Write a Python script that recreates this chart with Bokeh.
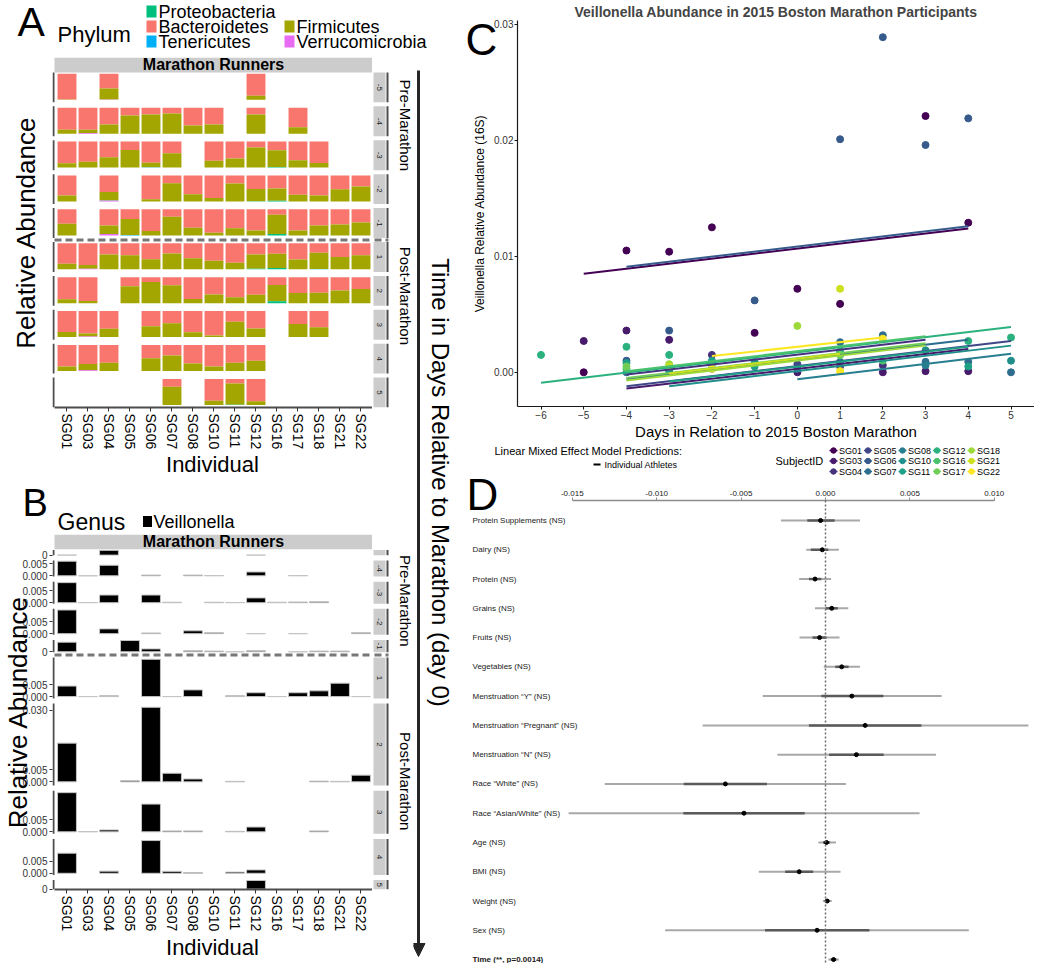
import math
from bokeh.plotting import figure
from bokeh.layouts import row, column
from bokeh.models import (Range1d, FixedTicker, Label, Arrow, NormalHead, Span,
                          PrintfTickFormatter)
from bokeh.embed import file_html
from bokeh.resources import INLINE
from bokeh.core.properties import value
from bokeh.palettes import viridis

FONT = "Liberation Sans"

# ------------------------------------------------------------------ data
subjects = ["SG01", "SG03", "SG04", "SG05", "SG06", "SG07", "SG08", "SG10",
            "SG11", "SG12", "SG16", "SG17", "SG18", "SG21", "SG22"]
facet_days = [-5, -4, -3, -2, -1, 1, 2, 3, 4, 5]

phyla = ["Bacteroidetes", "Firmicutes", "Proteobacteria", "Tenericutes", "Verrucomicrobia"]
phylum_colors = ["#F8766D", "#A3A500", "#00BF7D", "#00B0F6", "#E76BF3"]

# Panel A: Firmicutes share per subject (None = no sample that day)
firm_m5 = [0.01, None, 0.42, None, None, None, None, None, None, 0.15, None, None, None, None, None]
firm_m4 = [0.15, 0.12, 0.35, 0.70, 0.74, 0.78, 0.31, 0.35, None, 0.74, None, 0.25, None, None, None]
firm_m3 = [0.17, 0.22, 0.40, 0.68, 0.18, 0.55, None, 0.26, 0.35, 0.77, 0.65, 0.28, 0.18, None, None]
firm_m2 = [0.23, None, 0.32, None, 0.09, 0.70, 0.28, 0.13, 0.69, 0.47, 0.47, 0.26, 0.23, 0.47, 0.58]
firm_m1 = [0.45, None, 0.33, 0.62, 0.17, 0.72, 0.29, 0.10, 0.27, 0.19, 0.74, 0.19, 0.38, 0.42, 0.50]
firm_p1 = [0.21, 0.14, 0.57, 0.54, 0.39, 0.61, 0.42, 0.33, 0.25, 0.55, 0.55, 0.38, 0.63, 0.47, 0.54]
firm_p2 = [0.15, 0.08, None, 0.65, 0.81, 0.69, 0.16, 0.33, 0.23, 0.32, 0.63, 0.39, 0.40, 0.49, 0.55]
firm_p3 = [0.20, 0.12, 0.32, None, 0.42, 0.53, 0.19, 0.06, 0.59, 0.33, None, 0.50, 0.38, None, None]
firm_p4 = [0.17, 0.24, 0.32, None, 0.49, 0.60, 0.29, 0.17, 0.32, 0.39, None, None, None, None, None]
firm_p5 = [None, None, None, None, None, 0.70, None, 0.16, 0.81, 0.14, None, None, None, None, None]

# minor phyla (subject, day, share)
proteo_minor = [("SG16", -3, 0.02), ("SG16", -2, 0.03), ("SG16", -1, 0.05), ("SG16", 1, 0.05),
                ("SG16", 2, 0.07), ("SG12", 1, 0.02), ("SG12", -2, 0.01), ("SG11", 5, 0.01)]
teneri_minor = [("SG04", -2, 0.01), ("SG05", -1, 0.01), ("SG06", -3, 0.01), ("SG18", 1, 0.01)]
verruco_minor = [("SG03", -4, 0.03), ("SG04", -2, 0.03), ("SG04", -1, 0.05), ("SG03", 1, 0.02),
                 ("SG03", 3, 0.02), ("SG03", 4, 0.03), ("SG04", -5, 0.01)]

# Panel B: Veillonella relative abundance (None = nothing drawn)
veil_m5 = [0.0, None, 0.0020, None, None, None, None, None, None, 0.0, None, None, None, None, None]
veil_m4 = [0.0061, 0.0, 0.0044, None, 0.0003, None, 0.0003, 0.0001, None, 0.0016, None, 0.0001, None, None, None]
veil_m3 = [0.0084, 0.0001, 0.0032, None, 0.0032, 0.0002, None, 0.0002, 0.0001, 0.0020, 0.0002, 0.0003, 0.0004, None, None]
veil_m2 = [0.0099, None, 0.0020, None, 0.0003, None, 0.0012, 0.0004, None, 0.0, None, 0.0, None, None, 0.0004]
veil_m1 = [0.0040, None, None, 0.0047, 0.0012, None, 0.0004, 0.0003, 0.0, 0.0004, None, 0.0, 0.0003, 0.0003, None]
veil_p1 = [0.0044, 0.0, 0.0003, None, 0.0156, 0.0, 0.0028, None, 0.0003, 0.0016, 0.0, 0.0016, 0.0024, 0.0056, 0.0]
veil_p2 = [0.0162, None, None, 0.0005, 0.0312, 0.0036, 0.0012, None, 0.0002, None, None, None, 0.0003, 0.0002, 0.0028]
veil_p3 = [0.0164, 0.0001, 0.0008, None, 0.0116, 0.0004, 0.0004, None, 0.0002, 0.0020, None, None, 0.0004, None, None]
veil_p4 = [0.0084, None, 0.0009, None, 0.0137, 0.0008, 0.0003, None, 0.0005, 0.0014, None, None, None, None, None]
veil_p5 = [None, None, None, None, None, None, None, None, None, 0.0036, None, None, None, None, None]
veil_breaks = [0.0, 0.005, 0.03]

# Panel C: observations
c_subject = (["SG01"] * 9 + ["SG03"] * 7 + ["SG04"] * 2 + ["SG05"] * 4 + ["SG06"] * 7 +
             ["SG07"] * 6 + ["SG08"] * 3 + ["SG10"] * 4 + ["SG11"] * 5 + ["SG12"] * 6 +
             ["SG16"] * 3 + ["SG17"] * 2 + ["SG18"] * 2 + ["SG21"] * 2 + ["SG22"] * 3)
c_day = [-5, -4, -3, -2, -1, 0, 1, 3, 4,
         -5, -4, -3, 0, 2, 3, 4,
         -2, 2,
         -3, -2, 0, 1,
         -4, -3, -1, 1, 2, 3, 4,
         -4, 1, 2, 3, 4, 5,
         0, 1, 3,
         -3, -1, 3, 5,
         -4, -2, -1, 1, 4,
         -6, -4, -3, 1, 4, 5,
         -4, -2, 2,
         -4, 1,
         -3, 0,
         -3, 1,
         -2, 1, 2]
c_value = [0.0000, 0.0105, 0.0104, 0.0125, 0.0034, 0.0072, 0.0059, 0.0221, 0.0129,
           0.0027, 0.0036, 0.0028, 0.0000, 0.0000, 0.0001, 0.0001,
           0.0015, 0.0006,
           0.0003, 0.0003, 0.0007, 0.0005,
           0.0010, 0.0036, 0.0062, 0.0201, 0.0289, 0.0196, 0.0219,
           0.0000, 0.0026, 0.0032, 0.0009, 0.0009, 0.0000,
           0.0003, 0.0009, 0.0006,
           0.0001, 0.0009, 0.0019, 0.0010,
           0.0008, 0.0010, 0.0005, 0.0015, 0.0005,
           0.0015, 0.0022, 0.0015, 0.0018, 0.0027, 0.0030,
           0.0003, 0.0007, 0.0010,
           0.0005, 0.0015,
           0.0007, 0.0040,
           0.0005, 0.0072,
           0.0003, 0.0001, 0.0029]

# Panel C: mixed-model prediction segments per athlete
line_subject = subjects
line_day0 = [-5, -4, -4, -4, -4, -4, 0, -3, -3, -6, -4, -4, -4, -3, -2]
line_day1 = [4, 4, 3, 5, 4, 4, 5, 5, 4, 5, 3, 3, 3, 1, 2]
line_val0 = [0.0085, -0.0014, -0.0002, -0.0012, 0.0091, -0.0006, -0.0006, -0.0012, -0.0008,
             -0.0009, 0.0001, -0.0005, -0.0007, -0.0001, 0.0014]
line_val1 = [0.0124, 0.0020, 0.0028, 0.0027, 0.0126, 0.0028, 0.0016, 0.0023, 0.0022,
             0.0039, 0.0031, 0.0025, 0.0023, 0.0016, 0.0030]

# Panel D: coefficient estimates with two interval widths
d_terms = ["Protein Supplements (NS)", "Dairy (NS)", "Protein (NS)", "Grains (NS)", "Fruits (NS)",
           "Vegetables (NS)", "Menstruation \u201cY\u201d (NS)", "Menstruation \u201cPregnant\u201d (NS)",
           "Menstruation \u201cN\u201d (NS)", "Race \u201cWhite\u201d (NS)", "Race \u201cAsian/White\u201d (NS)",
           "Age (NS)", "BMI (NS)", "Weight (NS)", "Sex (NS)", "Time (**, p=0.0014)"]
d_est = [-0.00029, -0.00019, -0.00062, 0.00037, -0.00035, 0.00096, 0.00156, 0.00235, 0.00183,
         -0.00593, -0.00483, 0.00006, -0.00156, 0.00010, -0.00050, 0.00048]
d_outer_lo = [-0.00264, -0.00114, -0.00156, -0.00062, -0.00154, -0.00010, -0.00372, -0.00728, -0.00285,
              -0.01308, -0.01522, -0.00042, -0.00395, -0.00015, -0.00950, 0.00017]
d_outer_hi = [0.00204, 0.00079, 0.00033, 0.00135, 0.00083, 0.00204, 0.00688, 0.01202, 0.00655,
              0.00121, 0.00557, 0.00062, 0.00089, 0.00037, 0.00849, 0.00079]
d_inner_lo = [-0.00108, -0.00087, -0.00098, 0.00002, -0.00077, 0.00058, -0.00025, -0.00098, 0.00021,
              -0.00840, -0.00842, -0.00015, -0.00239, -0.00004, -0.00358, 0.00031]
d_inner_hi = [0.00054, 0.00017, -0.00025, 0.00073, 0.00006, 0.00137, 0.00343, 0.00568, 0.00345,
              -0.00347, -0.00123, 0.00027, -0.00073, 0.00023, 0.00260, 0.00064]
d_ticks = [-0.015, -0.010, -0.005, 0.0, 0.005, 0.010]


# ------------------------------------------------------------------ helpers
def new_fig(w, h, xr, yr, axes=True, transparent=False, **kw):
    args = dict(width=w, height=h, x_range=xr, y_range=yr, output_backend="svg",
                toolbar_location=None, tools="")
    if not axes:
        args.update(x_axis_type=None, y_axis_type=None, min_border=0)
    args.update(kw)
    p = figure(**args)
    p.outline_line_color = None
    p.xgrid.visible = False
    p.ygrid.visible = False
    if transparent:
        p.background_fill_color = None
        p.border_fill_color = None
    else:
        p.background_fill_color = "white"
        p.border_fill_color = "white"
    return p


def add_label(p, x, y, text, size, align="left", baseline="middle", angle=0.0,
              style="normal", color="black"):
    p.add_layout(Label(x=x, y=y, text=text, text_font=FONT, text_font_size=f"{size}px",
                       text_align=align, text_baseline=baseline, angle=angle,
                       text_font_style=style, text_color=color))


AXIS_GREY = "#4D4D4D"
STRIP_GREY = "#CCCCCC"
PITCH = 21.0          # px per subject column


def xa(s):            # picture x -> facet-panel x (subject index units)
    return 0.405 + (s - 54) / PITCH


def sx(s):            # picture x -> side-strip figure x
    return s - 372


def style_subject_axis(p, standoff):
    ax = p.xaxis[0]
    ax.ticker = FixedTicker(ticks=list(range(1, len(subjects) + 1)))
    ax.major_label_overrides = {i + 1: s for i, s in enumerate(subjects)}
    ax.major_label_orientation = "vertical"
    ax.bounds = (0.405, xa(372))
    ax.axis_line_color = AXIS_GREY
    ax.axis_line_width = 2
    ax.major_tick_line_color = "#333333"
    ax.major_tick_out = 4
    ax.major_tick_in = 0
    ax.minor_tick_line_color = None
    ax.major_label_standoff = 2
    ax.major_label_text_font = FONT
    ax.major_label_text_font_size = "14px"
    ax.major_label_text_color = "black"
    ax.axis_label = "Individual"
    ax.axis_label_text_font = FONT
    ax.axis_label_text_font_size = "22px"
    ax.axis_label_text_font_style = "normal"
    ax.axis_label_text_color = "black"
    ax.axis_label_standoff = standoff


def style_rel_axis(p, standoff):
    ax = p.yaxis[0]
    ax.axis_label = "Relative Abundance"
    ax.axis_label_text_font = FONT
    ax.axis_label_text_font_size = "26px"
    ax.axis_label_text_font_style = "normal"
    ax.axis_label_text_color = "black"
    ax.axis_label_standoff = standoff
    ax.axis_line_color = None
    ax.minor_tick_line_color = None
    return ax


# ------------------------------------------------------------------ panel A header
HW, HH = 455, 57
pah = new_fig(HW, HH, Range1d(0, HW), Range1d(0, HH), axes=False)


def hy(s):
    return HH - s


add_label(pah, 17, hy(21), "A", 41)
add_label(pah, 57, hy(34), "Phylum", 22)
leg_names = ["Proteobacteria", "Bacteroidetes", "Tenericutes", "Firmicutes", "Verrucomicrobia"]
leg_cols = [0, 0, 0, 1, 1]
leg_rows = [0, 1, 2, 1, 2]
col_key_x = [151, 289]
row_y = [11, 26, 41]
pc_map = dict(zip(phyla, phylum_colors))
pah.rect(x=[col_key_x[c] for c in leg_cols], y=[hy(row_y[r]) for r in leg_rows],
         width=10, height=12, fill_color=[pc_map[n] for n in leg_names], line_color=None)
pah.text(x=[col_key_x[c] + 7 for c in leg_cols], y=[hy(row_y[r]) for r in leg_rows],
         text=leg_names, text_font=value(FONT), text_font_size=value("18px"),
         text_baseline="middle", text_align="left", text_color="black")

# ------------------------------------------------------------------ panel A body
A_FR_T, A_FR_B = 57, 408


def ya(s):
    return A_FR_B - s


pa = new_fig(372, 423, Range1d(xa(52), xa(372)), Range1d(0, A_FR_B - A_FR_T),
             min_border_left=52, min_border_right=0, min_border_top=0, min_border_bottom=72)
pas = new_fig(41, 423, Range1d(0, 41), Range1d(0, A_FR_B - A_FR_T), axes=False, min_border_bottom=72)
style_subject_axis(pa, 0)
ya_ax = style_rel_axis(pa, 12)
ya_ax.ticker = FixedTicker(ticks=[])
ya_ax.major_tick_line_color = None
ya_ax.major_label_text_font_size = "0px"

firm_rows = [firm_m5, firm_m4, firm_m3, firm_m2, firm_m1, firm_p1, firm_p2, firm_p3, firm_p4, firm_p5]
minor_lookup = {}
for name, lst in (("Proteobacteria", proteo_minor), ("Tenericutes", teneri_minor),
                  ("Verrucomicrobia", verruco_minor)):
    for s, d, v in lst:
        minor_lookup[(name, s, d)] = v

A_FACET_H, A_PITCH_Y, A_FIRST_TOP = 30, 34, 72
A_LO, A_HI = -0.1, 1.05
a_scale = A_FACET_H / (A_HI - A_LO)
stack = {ph: dict(x=[], bottom=[], top=[]) for ph in phyla}
axl = dict(y0=[], y1=[])
for i, day in enumerate(facet_days):
    top_s = A_FIRST_TOP + i * A_PITCH_Y
    bot_s = top_s + A_FACET_H
    y0 = ya(bot_s) - A_LO * a_scale
    for j, subj in enumerate(subjects):
        f = firm_rows[i][j]
        if f is None:
            continue
        ve = minor_lookup.get(("Verrucomicrobia", subj, day), 0.0)
        te = minor_lookup.get(("Tenericutes", subj, day), 0.0)
        pr = minor_lookup.get(("Proteobacteria", subj, day), 0.0)
        parts = [("Verrucomicrobia", ve), ("Tenericutes", te), ("Proteobacteria", pr),
                 ("Firmicutes", f), ("Bacteroidetes", 1.0 - ve - te - pr - f)]
        acc = 0.0
        for ph, v in parts:
            if v <= 0:
                continue
            stack[ph]["x"].append(j + 1)
            stack[ph]["bottom"].append(y0 + acc * a_scale)
            stack[ph]["top"].append(y0 + (acc + v) * a_scale)
            acc += v
    axl["y0"].append(ya(top_s))
    axl["y1"].append(ya(bot_s))
    add_label(pas, sx(379), ya((top_s + bot_s) / 2), str(day), 8, align="center",
              angle=-math.pi / 2, color="#1A1A1A")

for ph, col in zip(phyla, phylum_colors):
    pa.vbar(x=stack[ph]["x"], width=0.9, bottom=stack[ph]["bottom"], top=stack[ph]["top"],
            fill_color=col, line_color=None)
n_f = len(facet_days)
pa.segment(x0=[xa(53)] * n_f, y0=axl["y0"], x1=[xa(53)] * n_f, y1=axl["y1"],
           line_color=AXIS_GREY, line_width=2)
pas.quad(left=[sx(373)] * n_f, right=[sx(385)] * n_f, bottom=axl["y1"], top=axl["y0"],
         fill_color=STRIP_GREY, line_color=None)
pas.segment(x0=[sx(387)] * n_f, y0=axl["y0"], x1=[sx(387)] * n_f, y1=axl["y1"],
            line_color=AXIS_GREY, line_width=2)
pa.quad(left=[xa(54)], right=[xa(372)], bottom=[ya(72)], top=[ya(57)], fill_color=STRIP_GREY, line_color=None)
add_label(pa, xa(213), ya(64.5), "Marathon Runners", 16, align="center", style="bold")
pa.segment(x0=[xa(54)], y0=[ya(240)], x1=[xa(372)], y1=[ya(240)], line_color="#777777",
           line_width=3, line_dash="7 4")
pas.segment(x0=[sx(374)], y0=[ya(240)], x1=[sx(388)], y1=[ya(240)], line_color="#777777",
            line_width=3, line_dash="7 4")
add_label(pas, sx(405), ya(125), "Pre-Marathon", 15, align="center", angle=-math.pi / 2)
add_label(pas, sx(405), ya(296), "Post-Marathon", 15, align="center", angle=-math.pi / 2)

# ------------------------------------------------------------------ panel B header
BH_TOP, BH_BOT = 480, 534
pbh = new_fig(413, BH_BOT - BH_TOP, Range1d(0, 413), Range1d(0, BH_BOT - BH_TOP), axes=False)


def bhy(s):
    return BH_BOT - s


add_label(pbh, 22, bhy(502), "B", 38)
add_label(pbh, 57, bhy(521), "Genus", 23)
pbh.rect(x=[147], y=[bhy(521)], width=9, height=11, fill_color="black", line_color=None)
pbh.text(x=[153], y=[bhy(521)], text=["Veillonella"], text_font=value(FONT),
         text_font_size=value("18px"), text_baseline="middle", text_align="left")

# ------------------------------------------------------------------ panel B body
B_FR_T, B_FR_B, B_BOTTOM = 534, 898, 963
B_PXU = 2450.0      # px per unit of abundance (free space)


def yb(s):
    return B_FR_B - s


pb = new_fig(372, B_BOTTOM - B_FR_T, Range1d(xa(52), xa(372)), Range1d(0, B_FR_B - B_FR_T),
             min_border_left=52, min_border_right=0, min_border_top=0,
             min_border_bottom=B_BOTTOM - B_FR_B)
pbs = new_fig(41, B_BOTTOM - B_FR_T, Range1d(0, 41), Range1d(0, B_FR_B - B_FR_T), axes=False,
              min_border_bottom=B_BOTTOM - B_FR_B)
style_subject_axis(pb, 1)
veil_rows = [veil_m5, veil_m4, veil_m3, veil_m2, veil_m1, veil_p1, veil_p2, veil_p3, veil_p4, veil_p5]
maxes = [max(v for v in r if v is not None) for r in veil_rows]
heights = [1.1 * m * B_PXU for m in maxes]
first_top = B_FR_T + 16
gap = (B_FR_B - first_top - sum(heights)) / (len(heights) - 1)
bars = dict(x=[], bottom=[], top=[])
bxl = dict(y0=[], y1=[])
ticks, overrides = [], {}
cursor = first_top
dash_y = None
for i, day in enumerate(facet_days):
    top_s = cursor
    bot_s = top_s + heights[i]
    lo = -0.05 * maxes[i]
    hi = 1.05 * maxes[i]
    base = yb(bot_s)
    for j, v in enumerate(veil_rows[i]):
        if v is None:
            continue
        bars["x"].append(j + 1)
        bars["bottom"].append(base + (0 - lo) * B_PXU)
        bars["top"].append(base + (v - lo) * B_PXU)
    inside = [t for t in veil_breaks if lo <= t <= hi]
    for t in inside:
        pos = round(base + (t - lo) * B_PXU, 3)
        ticks.append(pos)
        overrides[pos] = "0" if len(inside) == 1 else f"{t:.3f}"
    bxl["y0"].append(yb(top_s))
    bxl["y1"].append(yb(bot_s))
    if heights[i] > 9:
        add_label(pbs, sx(379), yb((top_s + bot_s) / 2), str(day), 8, align="center",
                  angle=-math.pi / 2, color="#1A1A1A")
    if day == -1:
        dash_y = bot_s + gap / 2
    cursor = bot_s + gap

pb.vbar(x=bars["x"], width=0.9, bottom=bars["bottom"], top=bars["top"], fill_color="black",
        line_color="#C4C4C4", line_width=1)
pb.segment(x0=[xa(53)] * n_f, y0=bxl["y0"], x1=[xa(53)] * n_f, y1=bxl["y1"],
           line_color=AXIS_GREY, line_width=2)
pbs.quad(left=[sx(373)] * n_f, right=[sx(385)] * n_f, bottom=bxl["y1"], top=bxl["y0"],
         fill_color=STRIP_GREY, line_color=None)
pbs.segment(x0=[sx(387)] * n_f, y0=bxl["y0"], x1=[sx(387)] * n_f, y1=bxl["y1"],
            line_color=AXIS_GREY, line_width=2)
pb.quad(left=[xa(54)], right=[xa(372)], bottom=[yb(B_FR_T + 15)], top=[yb(B_FR_T)],
        fill_color=STRIP_GREY, line_color=None)
add_label(pb, xa(213), yb(B_FR_T + 7.5), "Marathon Runners", 16, align="center", style="bold")
pb.segment(x0=[xa(54)], y0=[yb(dash_y)], x1=[xa(372)], y1=[yb(dash_y)], line_color="#777777",
           line_width=3, line_dash="7 4")
pbs.segment(x0=[sx(374)], y0=[yb(dash_y)], x1=[sx(388)], y1=[yb(dash_y)], line_color="#777777",
            line_width=3, line_dash="7 4")
yax = style_rel_axis(pb, -14)
yax.ticker = FixedTicker(ticks=ticks)
yax.major_label_overrides = overrides
yax.major_tick_line_color = "#333333"
yax.major_tick_out = 3
yax.major_tick_in = 0
yax.major_label_standoff = 2
yax.major_label_text_font = FONT
yax.major_label_text_font_size = "10px"
yax.major_label_text_color = "#333333"
add_label(pbs, sx(405), yb(602), "Pre-Marathon", 15, align="center", angle=-math.pi / 2)
add_label(pbs, sx(405), yb(787), "Post-Marathon", 15, align="center", angle=-math.pi / 2)

# ------------------------------------------------------------------ arrow between panels
AR_TOP, AR_BOT = 57, 963
parr = new_fig(42, AR_BOT - AR_TOP, Range1d(0, 42), Range1d(0, AR_BOT - AR_TOP), axes=False)


def arx(s):
    return s - 413


def ary(s):
    return AR_BOT - s


parr.add_layout(Arrow(x_start=arx(418), y_start=ary(70), x_end=arx(418), y_end=ary(956),
                      line_width=3, line_color="#262626",
                      end=NormalHead(size=13, fill_color="#262626", line_color="#262626")))
add_label(parr, arx(440), ary(482), "Time in Days Relative to Marathon (day 0)", 24,
          align="center", angle=-math.pi / 2)

# ------------------------------------------------------------------ panel C
RW = 1034 - 455
pal = viridis(len(subjects))
subj_color = dict(zip(subjects, pal))
C_XR = (-6.55, 5.55)
C_YR = (-0.00295, 0.03034)
pcf = new_fig(RW, 442, Range1d(*C_XR), Range1d(*C_YR),
              min_border_left=62, min_border_right=0, min_border_top=18, min_border_bottom=34,
              title="Veillonella Abundance in 2015 Boston Marathon Participants")
pcf.title.text_font = FONT
pcf.title.text_font_size = "14px"
pcf.title.text_font_style = "bold"
pcf.title.align = "center"
pcf.title.standoff = 2
for ax in (pcf.xaxis[0], pcf.yaxis[0]):
    ax.axis_line_color = "#1A1A1A"
    ax.axis_line_width = 1.2
    ax.major_tick_line_color = "#1A1A1A"
    ax.major_tick_out = 3
    ax.major_tick_in = 0
    ax.minor_tick_line_color = None
    ax.major_label_standoff = 1
    ax.major_label_text_font = FONT
    ax.major_label_text_font_size = "10px"
    ax.major_label_text_color = "#333333"
    ax.axis_label_text_font = FONT
    ax.axis_label_text_font_style = "normal"
    ax.axis_label_text_color = "black"
pcf.xaxis.ticker = FixedTicker(ticks=list(range(-6, 6)))
pcf.yaxis.ticker = FixedTicker(ticks=[0.0, 0.01, 0.02, 0.03])
pcf.yaxis.formatter = PrintfTickFormatter(format="%.2f")
pcf.xaxis.axis_label = "Days in Relation to 2015 Boston Marathon"
pcf.xaxis.axis_label_text_font_size = "15px"
pcf.xaxis.axis_label_standoff = 1
pcf.yaxis.axis_label = "Veillonella Relative Abundance (16S)"
pcf.yaxis.axis_label_text_font_size = "12px"
pcf.yaxis.axis_label_standoff = 4
pcf.scatter(x=c_day, y=c_value, size=7, fill_color=[subj_color[s] for s in c_subject],
            line_color=[subj_color[s] for s in c_subject])
pcf.segment(x0=line_day0, y0=line_val0, x1=line_day1, y1=line_val1,
            line_color=[subj_color[s] for s in line_subject], line_width=2)

# ------------------------------------------------------------------ panel C legend
LG_TOP, LG_BOT = 442, 478
pleg = new_fig(RW, LG_BOT - LG_TOP, Range1d(0, RW), Range1d(0, LG_BOT - LG_TOP), axes=False)


def lx(s):
    return s - 455


def ly(s):
    return LG_BOT - s


add_label(pleg, lx(494), ly(450), "Linear Mixed Effect Model Predictions:", 11)
pleg.segment(x0=[lx(593)], y0=[ly(464)], x1=[lx(600)], y1=[ly(464)], line_color="black", line_width=2)
add_label(pleg, lx(604), ly(464), "Individual Athletes", 9)
add_label(pleg, lx(775), ly(460), "SubjectID", 11)
key_x = [lx(833 + 34.5 * (k // 3)) for k in range(len(subjects))]
key_y = [ly([450, 460.5, 471][k % 3]) for k in range(len(subjects))]
pleg.segment(x0=[x - 4 for x in key_x], y0=key_y, x1=[x + 4 for x in key_x], y1=key_y,
             line_color=pal, line_width=1.5)
pleg.scatter(x=key_x, y=key_y, size=5.5, fill_color=pal, line_color=pal)
pleg.text(x=[x + 5.5 for x in key_x], y=key_y, text=subjects, text_font=value(FONT),
          text_font_size=value("9px"), text_baseline="middle", text_align="left")

# ------------------------------------------------------------------ panel D
D_TOP, D_AXIS, D_BOT = 478, 500, 963
D_LEFT = 465
D_PXU = 16880.0
D_ROW0, D_ROWPX = 520.0, 29.27


def xd(s):
    return (s - 825) / D_PXU


def yd(s):
    return (s - D_ROW0) / D_ROWPX


pd_ = new_fig(RW, D_BOT - D_TOP, Range1d(xd(D_LEFT), xd(1034)), Range1d(yd(D_BOT), yd(D_AXIS)),
              min_border_left=D_LEFT - 455, min_border_right=0, min_border_top=D_AXIS - D_TOP,
              min_border_bottom=0, x_axis_location="above")
pd_.yaxis.visible = False
dax = pd_.xaxis[0]
dax.ticker = FixedTicker(ticks=d_ticks)
dax.formatter = PrintfTickFormatter(format="%.3f")
dax.bounds = (d_ticks[0], d_ticks[-1])
dax.axis_line_color = "#8C8C8C"
dax.axis_line_width = 1.5
dax.major_tick_line_color = "#8C8C8C"
dax.major_tick_out = 3
dax.major_tick_in = 0
dax.minor_tick_line_color = None
dax.major_label_standoff = 2
dax.major_label_text_font = FONT
dax.major_label_text_font_size = "8px"
dax.major_label_text_color = "#222222"
pd_.add_layout(Span(location=0, dimension="height", line_color="#6E6E6E", line_width=1.5,
                    line_dash="2 2"))
rows_idx = list(range(len(d_terms)))
pd_.segment(x0=d_outer_lo, y0=rows_idx, x1=d_outer_hi, y1=rows_idx, line_color="#A8A8A8", line_width=2)
pd_.segment(x0=d_inner_lo, y0=rows_idx, x1=d_inner_hi, y1=rows_idx, line_color="#5A5A5A", line_width=2.5)
pd_.scatter(x=d_est, y=rows_idx, size=4, fill_color="black", line_color="black")
pd_.text(x=[xd(472)] * (len(d_terms) - 1), y=rows_idx[:-1], text=d_terms[:-1], text_font=value(FONT),
         text_font_size=value("8px"), text_baseline="middle", text_align="left", text_color="#1A1A1A")
pd_.text(x=[xd(472)], y=rows_idx[-1:], text=d_terms[-1:], text_font=value(FONT),
         text_font_size=value("8px"), text_baseline="middle", text_align="left",
         text_font_style="bold", text_color="#1A1A1A")


# ------------------------------------------------------------------ panel letters C and D (overlaid)
def letter_fig(letter, cx, cy):
    w, h = 50, 60
    p = new_fig(w, h, Range1d(0, w), Range1d(0, h), axes=False, transparent=True,
                styles={"position": "absolute", "left": f"{cx - w // 2}px",
                        "top": f"{cy - h // 2}px", "z-index": "10"})
    add_label(p, w / 2, h / 2, letter, 44, align="center")
    return p


letter_c = letter_fig("C", 481, 39)
letter_d = letter_fig("D", 482, 494)

# ------------------------------------------------------------------ layout
left_block = column(pah, row(column(row(pa, pas), pbh, row(pb, pbs)), parr))
right_block = column(pcf, row(pleg), row(pd_))
root = row(left_block, right_block, letter_c, letter_d)

open("out.html", "w").write(file_html(root, INLINE, title="Veillonella marathon figure"))
